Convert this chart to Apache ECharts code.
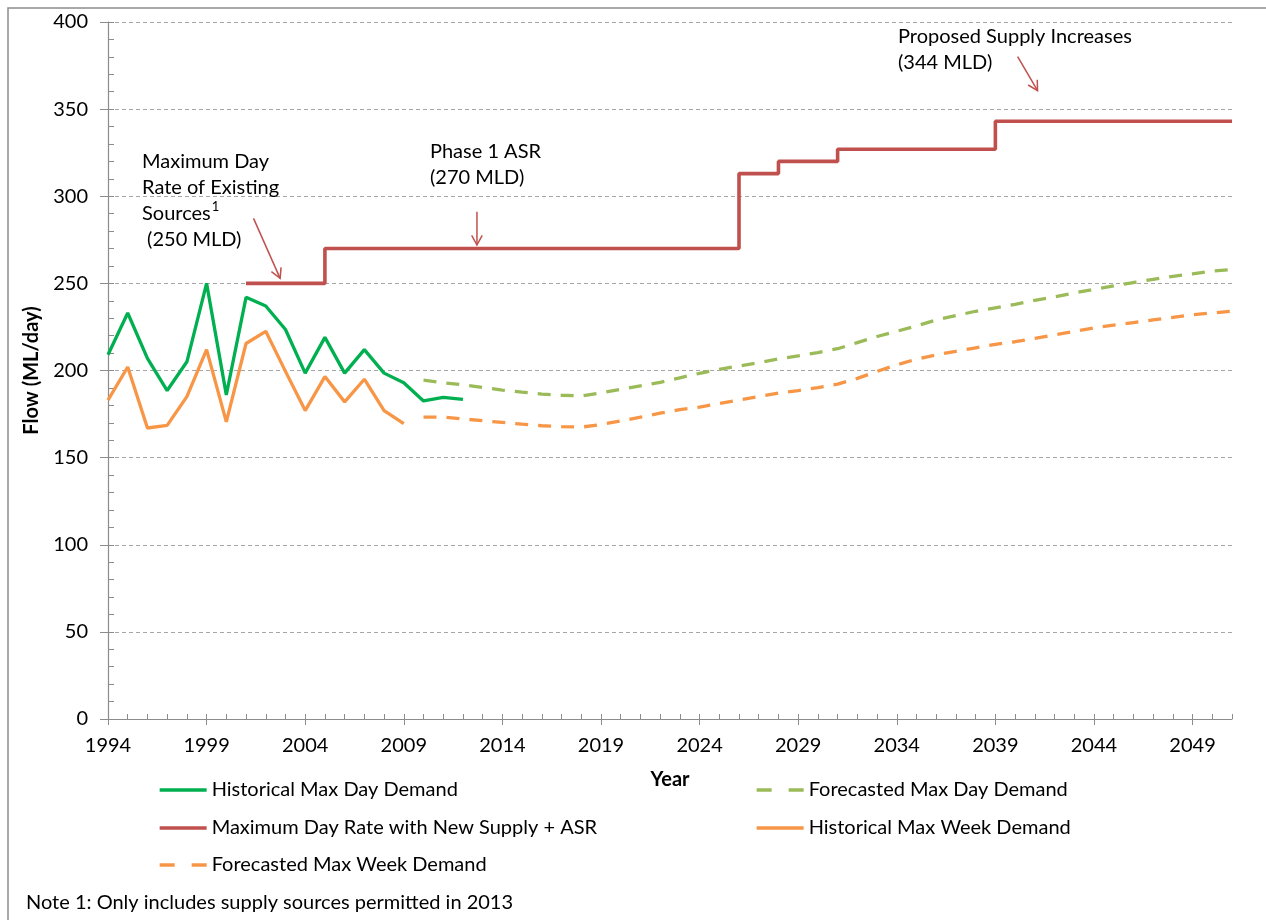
<!DOCTYPE html>
<html><head><meta charset="utf-8">
<script src="https://cdn.jsdelivr.net/npm/echarts@6/dist/echarts.min.js"></script>
<style>html,body{margin:0;padding:0;background:#fff}#c{width:1266px;height:920px}</style>
</head><body><div id="c"></div>
<script>
// ---- DATA ----
const years = ['1994','1995','1996','1997','1998','1999','2000','2001','2002','2003','2004','2005','2006','2007','2008','2009','2010','2011','2012','2013','2014','2015','2016','2017','2018','2019','2020','2021','2022','2023','2024','2025','2026','2027','2028','2029','2030','2031','2032','2033','2034','2035','2036','2037','2038','2039','2040','2041','2042','2043','2044','2045','2046','2047','2048','2049','2050','2051'];

// Historical Max Day Demand, 1994-2012
const histDayStart = '1994';
const histDay = [209,233,207,188.5,205,250,186,242,237,223.5,198.5,219,198.5,212,198.5,193,182.5,184.6,183.4];

// Historical Max Week Demand, 1994-2009
const histWeekStart = '1994';
const histWeek = [183,202,167,168.5,185,212,170.5,215.5,222.5,199.5,177,196.5,182,195,177,169.5];

// Forecasted Max Day Demand, 2010-2051
const fcDayStart = '2010';
const fcDay = [194.5,193,191.8,190.3,188.8,187.6,186.5,185.8,185.4,187.2,
               189.2,191.2,193.2,195.8,198.4,200.7,202.6,204.5,206.6,208.4,
               210.3,212.5,216,219.5,222.5,225.6,229,231.5,234,236,
               238,240.3,242.3,244.5,246.5,248.5,250.5,252.3,254,255.5,
               257,258];

// Forecasted Max Week Demand, 2010-2051
const fcWeekStart = '2010';
const fcWeek = [173.2,173.3,172.2,171.2,170.2,169.2,168.3,167.8,167.5,169,
                171,173.2,175.5,177.5,179,181,183,185,187,188.5,
                190.2,192.2,195.5,199.5,203.3,206.5,209,211,213,215,
                216.5,218.5,220.5,222.5,224.5,226,227.5,229,230.5,232,
                233,234];

// Maximum Day Rate with New Supply + ASR, 2001-2051
const supplyStart = '2001';
const supply = [250,250,250,250,
                270,270,270,270,270,270,270,270,270,270,270,270,270,270,270,270,270,270,270,270,270,
                313,313,
                320,320,320,
                327,327,327,327,327,327,327,327,
                343,343,343,343,343,343,343,343,343,343,343,343,343];

const yTicks = [0,50,100,150,200,250,300,350,400];

// ---- BUILD ----
function place(start, vals){
  const out = years.map(()=>null);
  const s = years.indexOf(start);
  vals.forEach((v,i)=>{ out[s+i]=v; });
  return out;
}
const FONT = 'Lato, "Open Sans", sans-serif';
const FS = 20;
const C_GREEN='#00B050', C_LGREEN='#9BBB59', C_RED='#C0504D', C_ORANGE='#F79646';

const chart = echarts.init(document.getElementById('c'), null, {renderer:'canvas'});
const legendBase = {orient:'horizontal', itemWidth:47, itemHeight:20, padding:0,
  itemStyle:{opacity:0}, lineStyle:{width:3.3},
  textStyle:{fontFamily:FONT, fontSize:FS, color:'#000', lineHeight:20}, selectedMode:false};
const legendDash = {lineStyle:{width:3.3, type:[15,17]}};

chart.setOption({
  animation:false,
  backgroundColor:'#fff',
  grid:{left:108, right:34, top:22, bottom:201, containLabel:false},
  xAxis:[{
    type:'category', data:years, boundaryGap:false,
    axisLine:{show:true, lineStyle:{color:'#8c8c8c', width:1.2}},
    axisTick:{show:true, interval:4, length:6, inside:false, lineStyle:{color:'#8c8c8c'}},
    axisLabel:{interval:4, margin:17, fontFamily:FONT, fontSize:FS, color:'#000'},
    splitLine:{show:false},
    name:'Year', nameLocation:'middle', nameGap:51,
    nameTextStyle:{fontFamily:FONT, fontSize:FS, fontWeight:'bold', color:'#000'}
  },{
    type:'category', data:years, boundaryGap:false, position:'bottom',
    axisLine:{show:false},
    axisTick:{show:true, interval:0, length:5, inside:true, lineStyle:{color:'#8c8c8c'}},
    axisLabel:{show:false}, splitLine:{show:false}
  }],
  yAxis:[{
    type:'value', min:0, max:400, interval:50,
    axisLine:{show:true, lineStyle:{color:'#8c8c8c', width:1.2}},
    axisTick:{show:true, length:8, inside:false, lineStyle:{color:'#8c8c8c'}},
    axisLabel:{margin:20, fontFamily:FONT, fontSize:FS, color:'#000',
      formatter:v=> yTicks.includes(v) ? String(v) : ''},
    splitLine:{show:true, lineStyle:{color:'#a6a6a6', type:[4,3], width:1}},
    name:'Flow (ML/day)', nameLocation:'middle', nameGap:66, nameRotate:90,
    nameTextStyle:{fontFamily:FONT, fontSize:FS, fontWeight:'bold', color:'#000'}
  },{
    type:'value', min:0, max:400, interval:10, position:'left', offset:0,
    axisLine:{show:false},
    axisTick:{show:true, length:6, inside:true, lineStyle:{color:'#8c8c8c'}},
    axisLabel:{show:false}, splitLine:{show:false}
  }],
  legend:[
    Object.assign({}, legendBase, {left:158, top:780, data:['Historical Max Day Demand']}),
    Object.assign({}, legendBase, {left:158, top:818, data:['Maximum Day Rate with New Supply + ASR']}),
    Object.assign({}, legendBase, legendDash, {left:158, top:855, data:['Forecasted Max Week Demand']}),
    Object.assign({}, legendBase, legendDash, {left:755, top:780, data:['Forecasted Max Day Demand']}),
    Object.assign({}, legendBase, {left:755, top:818, data:['Historical Max Week Demand']})
  ],
  series:[
    {name:'Historical Max Day Demand', type:'line', data:place(histDayStart,histDay), symbol:'none',
     lineStyle:{color:C_GREEN, width:3.3}, itemStyle:{color:C_GREEN}, z:5},
    {name:'Forecasted Max Day Demand', type:'line', data:place(fcDayStart,fcDay), symbol:'none',
     lineStyle:{color:C_LGREEN, width:3.3, type:[13,10]}, itemStyle:{color:C_LGREEN}, z:3},
    {name:'Maximum Day Rate with New Supply + ASR', type:'line', step:'end', data:place(supplyStart,supply), symbol:'none',
     lineStyle:{color:C_RED, width:3.6}, itemStyle:{color:C_RED}, z:4},
    {name:'Historical Max Week Demand', type:'line', data:place(histWeekStart,histWeek), symbol:'none',
     lineStyle:{color:C_ORANGE, width:3.3}, itemStyle:{color:C_ORANGE}, z:5},
    {name:'Forecasted Max Week Demand', type:'line', data:place(fcWeekStart,fcWeek), symbol:'none',
     lineStyle:{color:C_ORANGE, width:3.3, type:[13,10]}, itemStyle:{color:C_ORANGE}, z:3}
  ]
});

// ---- ANNOTATIONS ----
function px(idx, val){
  const i0 = Math.floor(idx), f = idx - i0;
  const a = chart.convertToPixel({xAxisIndex:0, yAxisIndex:0}, [i0, val]);
  const b = chart.convertToPixel({xAxisIndex:0, yAxisIndex:0}, [i0+1, val]);
  return [a[0] + (b[0]-a[0])*f, a[1]];
}
// arrows in data space: [tailIndex, tailValue, tipIndex, tipValue]
const arrows = [
  [7.38, 287.3, 8.73, 252.9],
  [18.71, 291.1, 18.71, 272.0],
  [46.13, 380.1, 47.14, 360.6]
];
const graphics = [];
graphics.push({type:'rect', shape:{x:8, y:8, width:1300, height:1000}, style:{fill:null, stroke:'#8c8c8c', lineWidth:1.5}, z:0, silent:true});
arrows.forEach(a=>{
  const t = px(a[0], a[1]), h = px(a[2], a[3]);
  const ang = Math.atan2(h[1]-t[1], h[0]-t[0]);
  const L = 11, w = 0.5;
  const p1 = [h[0]-L*Math.cos(ang-w), h[1]-L*Math.sin(ang-w)];
  const p2 = [h[0]-L*Math.cos(ang+w), h[1]-L*Math.sin(ang+w)];
  graphics.push({type:'line', shape:{x1:t[0], y1:t[1], x2:h[0], y2:h[1]}, style:{stroke:C_RED, lineWidth:1.5}, z:10});
  graphics.push({type:'polyline', shape:{points:[p1,h,p2]}, style:{stroke:C_RED, lineWidth:1.5, fill:null}, z:10});
});
function txt(s, x, y, extra){
  return Object.assign({type:'text', x:x, y:y, z:10,
    style:{text:s, fontFamily:FONT, fontSize:FS, fill:'#000', textVerticalAlign:'middle', textAlign:'left'}}, extra||{});
}
graphics.push(txt('Maximum Day', 142, 162));
graphics.push(txt('Rate of Existing', 142, 188));
graphics.push(txt('Sources', 142, 214));
const ctx = document.createElement('canvas').getContext('2d');
ctx.font = FS + 'px Lato';
const sw = ctx.measureText('Sources').width;
graphics.push({type:'text', x:142+sw+1, y:207, z:10, style:{text:'1', fontFamily:FONT, fontSize:13, fill:'#000', textVerticalAlign:'middle'}});
graphics.push(txt(' (250 MLD)', 142, 240));
graphics.push(txt('Phase 1 ASR', 430, 152));
graphics.push(txt('(270 MLD)', 430, 178));
graphics.push(txt('Proposed Supply Increases', 898, 37));
graphics.push(txt('(344 MLD)', 898, 63));
graphics.push(txt('Note 1: Only includes supply sources permitted in 2013', 26, 903));
chart.setOption({graphic:graphics});
</script>
</body></html>
